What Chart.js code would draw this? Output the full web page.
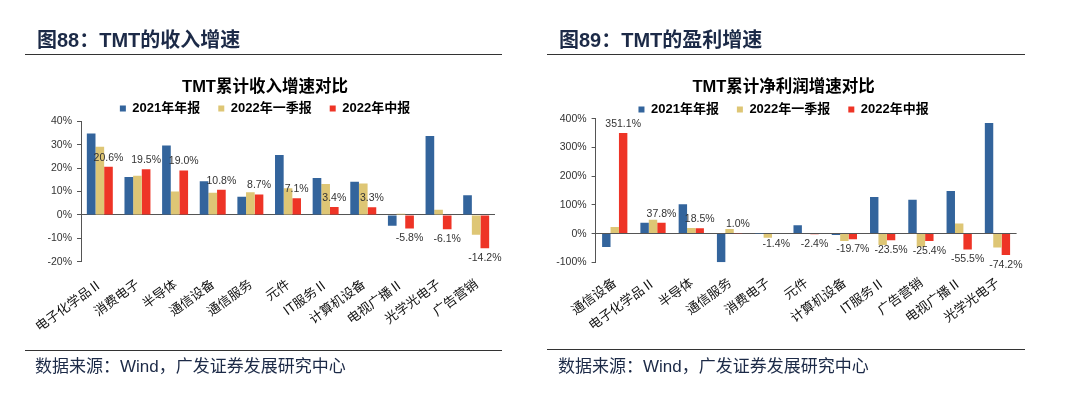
<!DOCTYPE html>
<html>
<head>
<meta charset="utf-8">
<script src="https://cdn.jsdelivr.net/npm/chart.js@4.4.1/dist/chart.umd.min.js"></script>
<style>
  html, body { margin: 0; padding: 0; background: #fff; }
  #wrap { position: relative; width: 1080px; height: 395px; background: #fff; overflow: hidden; }
  canvas { position: absolute; top: 0; }
  .hdr { position: absolute; font-family: "Liberation Sans", "Noto Sans CJK SC", sans-serif; font-weight: bold; font-size: 20px; color: #1c2a47; line-height: 24px; white-space: nowrap; }
  .src { position: absolute; font-family: "Liberation Sans", "Noto Sans CJK SC", sans-serif; font-size: 17px; color: #1c2a47; line-height: 22px; white-space: nowrap; }
  .rule { position: absolute; height: 1px; background: #333; }
</style>
</head>
<body>
<div id="wrap">
  <canvas id="c1" width="540" height="395" style="left:0"></canvas>
  <canvas id="c2" width="580" height="395" style="left:500px"></canvas>
  <div class="hdr" style="left:37px;top:28px">图88：TMT的收入增速</div>
  <div class="rule" style="left:25px;top:54px;width:477px"></div>
  <div class="rule" style="left:25px;top:350px;width:477px"></div>
  <div class="src" style="left:35px;top:356px">数据来源：Wind，广发证券发展研究中心</div>
  <div class="hdr" style="left:559px;top:28px">图89：TMT的盈利增速</div>
  <div class="rule" style="left:547px;top:54px;width:478px"></div>
  <div class="rule" style="left:547px;top:349px;width:478px"></div>
  <div class="src" style="left:558px;top:356px">数据来源：Wind，广发证券发展研究中心</div>
</div>
<script>
// ---- data ----
const seriesNames = ['2021年年报', '2022年一季报', '2022年中报'];

const revCategories = ['电子化学品Ⅱ', '消费电子', '半导体', '通信设备', '通信服务', '元件', 'IT服务Ⅱ', '计算机设备', '电视广播Ⅱ', '光学光电子', '广告营销'];
const rev2021 = [34.8, 16.2, 29.7, 14.4, 7.8, 25.6, 15.8, 14.2, -4.6, 33.7, 8.4];
const rev2022Q1 = [29.1, 16.7, 10.0, 9.5, 9.7, 11.4, 13.2, 13.4, 0.5, 2.2, -8.5];
const rev2022H1 = [20.6, 19.5, 19.0, 10.8, 8.7, 7.1, 3.4, 3.3, -5.8, -6.1, -14.2];
const revTicks = { min: -20, max: 40, step: 10 };

const profCategories = ['通信设备', '电子化学品Ⅱ', '半导体', '通信服务', '消费电子', '元件', '计算机设备', 'IT服务Ⅱ', '广告营销', '电视广播Ⅱ', '光学光电子'];
const prof2021 = [-47, 38, 102, -100, 0.5, 29, -5, 128, 118, 149, 386];
const prof2022Q1 = [23, 48, 20, 16, -14, -1.5, -26, -40, -46, 35, -48];
const prof2022H1 = [351.1, 37.8, 18.5, 1.0, -1.4, -2.4, -19.7, -23.5, -25.4, -55.5, -74.2];
const profTicks = { min: -100, max: 400, step: 100 };

// ---- styling ----
const COLORS = ['#33649c', '#dec675', '#ee3426'];
const LATIN = '"Liberation Sans", Arial, "Noto Sans CJK SC", sans-serif';
const CJK = '"Noto Sans CJK SC", "Liberation Sans", sans-serif';

const valueLabels = {
  id: 'valueLabels',
  afterDatasetsDraw(chart) {
    const ctx = chart.ctx;
    const idx = 2;
    const meta = chart.getDatasetMeta(idx);
    const data = chart.data.datasets[idx].data;
    ctx.save();
    ctx.font = '10.5px ' + LATIN;
    ctx.fillStyle = '#333';
    ctx.textAlign = 'center';
    ctx.textBaseline = 'middle';
    meta.data.forEach((el, i) => {
      const v = data[i];
      const y = v >= 0 ? el.y - 9 : el.y + 10;
      ctx.fillText(v.toFixed(1) + '%', el.x, y);
    });
    ctx.restore();
  }
};

function makeChart(id, title, cats, s1, s2, s3, ticks, L) {
  const d = [s1, s2, s3];
  return new Chart(document.getElementById(id), {
    type: 'bar',
    data: {
      labels: cats,
      datasets: seriesNames.map((n, i) => ({
        label: n, data: d[i], backgroundColor: COLORS[i], borderWidth: 0,
        categoryPercentage: L.catPct, barPercentage: 1.0
      }))
    },
    options: {
      responsive: false,
      animation: false,
      devicePixelRatio: 1,
      layout: { padding: { left: L.padLeft, right: L.padRight, top: 70, bottom: 0 } },
      plugins: {
        title: {
          display: true, text: title, color: '#000',
          font: { family: LATIN, size: 16.5, weight: 'bold', lineHeight: 1.2 },
          padding: { top: L.titleTop, bottom: L.titleBottom }
        },
        legend: {
          display: true, position: 'top', maxHeight: L.legendMax,
          labels: {
            boxWidth: 6, boxHeight: 6, padding: 18, color: '#000',
            font: { family: LATIN, size: 13, weight: 'bold' }
          }
        },
        tooltip: { enabled: false }
      },
      scales: {
        x: {
          grid: { display: false, drawTicks: false },
          border: { display: false },
          ticks: {
            autoSkip: false, minRotation: 36, maxRotation: 36, padding: L.labelPad,
            color: '#111', font: { family: CJK, size: 13 }
          },
          afterFit(scale) { scale.height = 395 - L.plotBottom; }
        },
        y: {
          min: ticks.min, max: ticks.max,
          grid: {
            drawOnChartArea: true, drawTicks: true, tickLength: 4,
            color: (c) => (c.tick && c.tick.value === 0 ? '#555' : 'rgba(0,0,0,0)'),
            tickColor: '#555', lineWidth: 1
          },
          border: { display: true, color: '#555', width: 1 },
          ticks: {
            stepSize: ticks.step, padding: 5, color: '#333',
            font: { family: LATIN, size: 10.5 },
            callback: (v) => v + '%'
          },
          afterFit(scale) { scale.width = L.yWidth; }
        }
      }
    },
    plugins: [valueLabels]
  });
}

// left: plot x 81..495, y 121.7..261.7 ; title centre y 88, legend centre y 109
makeChart('c1', 'TMT累计收入增速对比', revCategories, rev2021, rev2022Q1, rev2022H1, revTicks, {
  padLeft: 35, padRight: 45, yWidth: 46, catPct: 0.69, labelPad: 14,
  titleTop: 8, titleBottom: -13.7, legendMax: 37.2, plotBottom: 261.7
});
// right (canvas starts at x=500): plot local 95.6..516.6, y 119.3..262.3 ; title 88, legend 110
makeChart('c2', 'TMT累计净利润增速对比', profCategories, prof2021, prof2022Q1, prof2022H1, profTicks, {
  padLeft: 50.6, padRight: 63.4, yWidth: 45, catPct: 0.66, labelPad: 12,
  titleTop: 8, titleBottom: -12.7, legendMax: 33.8, plotBottom: 262.3
});
</script>
</body>
</html>
